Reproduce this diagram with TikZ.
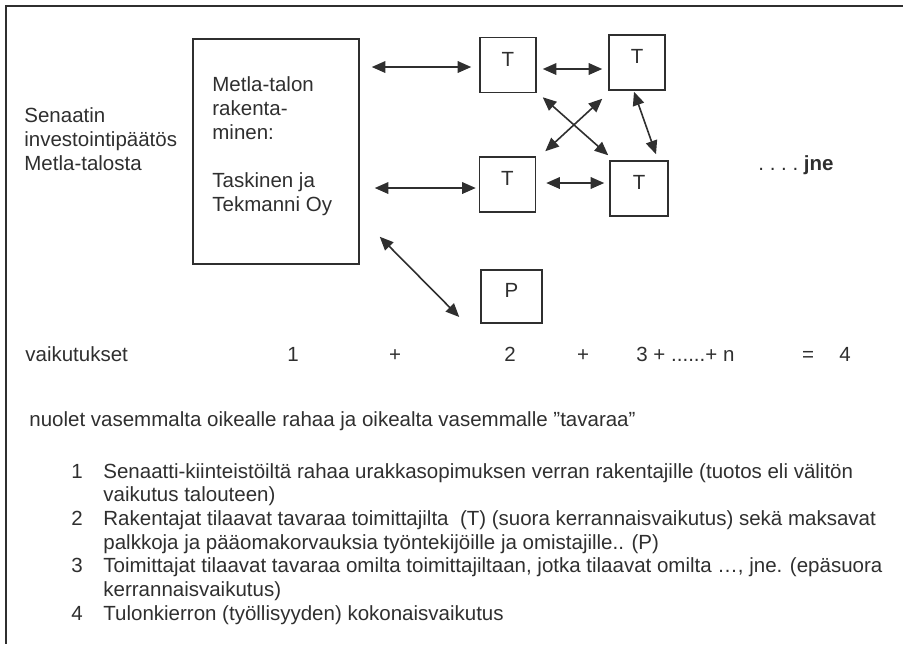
\documentclass[tikz,border=0pt]{standalone}
\usepackage{fontspec}
\setmainfont{Liberation Sans}
\usetikzlibrary{arrows.meta,calc}

\definecolor{ink}{HTML}{2F2F2F}
\newcommand\kirjain{\fontsize{10.25pt}{12pt}\selectfont}
\newcommand\listakirjain{\fontsize{10.25pt}{11.83pt}\selectfont}

\tikzset{
  txt/.style={inner sep=0pt, anchor=base west, align=left, font=\kirjain},
  num/.style={inner sep=0pt, anchor=base, font=\kirjain},
  box/.style={draw, line width=0.75pt, minimum width=28pt, minimum height=27.5pt,
    inner sep=0pt, text depth=6pt, font=\kirjain},
  dbl/.style={{Triangle[length=6.8pt,width=5.8pt]}-{Triangle[length=6.8pt,width=5.8pt]},
    line width=0.8pt},
}

\begin{document}
\begin{tikzpicture}[x=0.5pt, y=-0.5pt, color=ink, text=ink]
    \useasboundingbox (0,0) rectangle (903,644);

    % Kehys
    \draw[line width=1pt] (903,6) -- (6,6) -- (6,644);

    % Päätös ja rakentaja (base = viimeisen rivin perusviiva)
    \node[txt] (sen) at (24,170.5) {Senaatin\\investointipäätös\\Metla-talosta};
    \node[box, minimum width=83pt, minimum height=112.5pt] (big) at (276,151.5) {};
    \node[txt] (bigtxt) at (212,211.7) {Metla-talon\\rakenta-\\minen:\\[12pt]Taskinen ja\\Tekmanni Oy};

    % Toimittajat ja palkat
    \node[box] (t1) at (508,65) {T};
    \node[box] (t2) at (637,62.5) {T};
    \node[box] (t3) at (507.5,184.5) {T};
    \node[box, minimum width=29pt] (t4) at (639,188.5) {T};
    \node[box, minimum width=30.5pt, minimum height=26.5pt] (p) at (511.5,296.5) {P};
    \node[txt] (jne) at (758,170) {.\ .\ .\ .\ \textbf{jne}};

    % Nuolet
    \draw[dbl] ($(t1.west -| big.east)+(12,2)$) -- ($(t1.west)+(-8,2)$);
    \draw[dbl] ($(t3.west -| big.east)+(15,3.5)$) -- ($(t3.west)+(-3,3.5)$);
    \draw[dbl] ($(big.south east)+(20,-28)$) -- ($(p.west)+(-21,20.5)$);
    \draw[dbl] ($(t1.east)+(6,4)$) -- ($(t1.east -| t2.west)+(-6,4)$);
    \draw[dbl] ($(t3.east)+(10,-1.5)$) -- ($(t3.east -| t4.west)+(-5,-1.5)$);
    \draw[dbl] ($(t1.south east)+(6,4)$) -- ($(t4.north west)+(-1,-5)$);
    \draw[dbl] ($(t2.south west)+(-6,8)$) -- ($(t3.north east)+(9,-5)$);
    \draw[dbl] ($(t2.south)+(-3,1)$) -- ($(t4.north)+(17,-6)$);

    % Vaikutukset
    \node[txt] (vaik) at (25,361.5) {vaikutukset};
    \node[num] (s1) at (293,361.5) {1};
    \node[num] (plus1) at (395,361.5) {+};
    \node[num] (s2) at (510,361.5) {2};
    \node[num] (plus2) at (583,361.5) {+};
    \node[txt] (s3) at (636,361.5) {3 + ......+ n};
    \node[num] (eq) at (808,361.5) {=};
    \node[num] (s4) at (845,361.5) {4};

    \node[txt] (nuolet) at (29,426) {nuolet vasemmalta oikealle rahaa ja oikealta vasemmalle ”tavaraa”};

    % Selitykset
    \node[txt] (k1) at (71,478) {1};
    \node[txt, font=\listakirjain] (e1) at (103,501.7) {Senaatti-kiinteistöiltä rahaa urakkasopimuksen verran rakentajille (tuotos eli välitön\\vaikutus talouteen)};
    \node[txt] (k2) at (71,525.3) {2};
    \node[txt, font=\listakirjain] (e2) at (103,549) {Rakentajat tilaavat tavaraa toimittajilta\ \ (T) (suora kerrannaisvaikutus) sekä maksavat\\palkkoja ja pääomakorvauksia työntekijöille ja omistajille.. (P)};
    \node[txt] (k3) at (71,572.7) {3};
    \node[txt, font=\listakirjain] (e3) at (103,596.3) {Toimittajat tilaavat tavaraa omilta toimittajiltaan, jotka tilaavat omilta …, jne. (epäsuora\\kerrannaisvaikutus)};
    \node[txt] (k4) at (71,620) {4};
    \node[txt] (e4) at (103,620) {Tulonkierron (työllisyyden) kokonaisvaikutus};
\end{tikzpicture}
\end{document}
